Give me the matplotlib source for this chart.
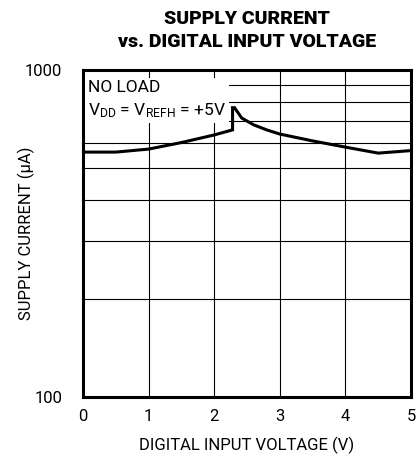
import numpy as np
import matplotlib
matplotlib.use('Agg')
import matplotlib.pyplot as plt
from matplotlib.ticker import FixedLocator, NullFormatter

# data
voltage = [0.0, 0.5, 1.0, 1.5, 2.0, 2.28, 2.28, 2.31, 2.42, 2.6, 2.8, 3.0, 3.5, 4.0, 4.5, 5.0]
current = [561, 561, 573, 600, 633, 656, 767, 767, 713, 680, 656, 637, 607, 581, 557, 567]

x_ticks = [0, 1, 2, 3, 4, 5]
y_grid = [200, 300, 400, 500, 600, 700, 800, 900]

plt.rcParams['font.family'] = ['Roboto', 'DejaVu Sans']

fig = plt.figure(figsize=(4.16, 4.57), dpi=100)
ax = fig.add_axes([0.1995, 0.1313, 0.7885, 0.7155])

ax.plot(voltage, current, color='black', lw=2.2, solid_joinstyle='miter', zorder=5)
ax.set_yscale('log')
ax.set_xlim(0, 5)
ax.set_ylim(100, 1000)

ax.set_xticks(x_ticks)
ax.set_xticklabels([str(t) for t in x_ticks], fontsize=12)
ax.yaxis.set_major_locator(FixedLocator([100, 1000]))
ax.set_yticklabels(['100', '1000'], fontsize=12)
ax.yaxis.set_minor_locator(FixedLocator(y_grid))
ax.yaxis.set_minor_formatter(NullFormatter())
ax.tick_params(which='both', length=0, pad=9)
ax.tick_params(axis='y', pad=15)

ax.grid(True, which='both', color='black', lw=0.8)
ax.set_axisbelow(True)
for s in ax.spines.values():
    s.set_linewidth(2.2)

ax.set_xlabel('DIGITAL INPUT VOLTAGE (V)', fontsize=12, labelpad=9)
ax.set_ylabel('SUPPLY CURRENT (\u00b5A)', fontsize=12)
ax.yaxis.set_label_coords(-0.145, 0.5)

ax.text(0.08, 935, 'NO LOAD\n' + r'V$\mathregular{_{DD}}$ = V$\mathregular{_{REFH}}$ = +5V',
        fontsize=12.5, va='top', ha='left', linespacing=1.5, zorder=4,
        bbox=dict(facecolor='white', edgecolor='none', pad=2))

fig.text(0.594, 0.978, 'SUPPLY CURRENT\nvs. DIGITAL INPUT VOLTAGE',
         ha='center', va='top', fontsize=14, fontweight='black', linespacing=1.35)

fig.savefig('out.png', dpi=100)
